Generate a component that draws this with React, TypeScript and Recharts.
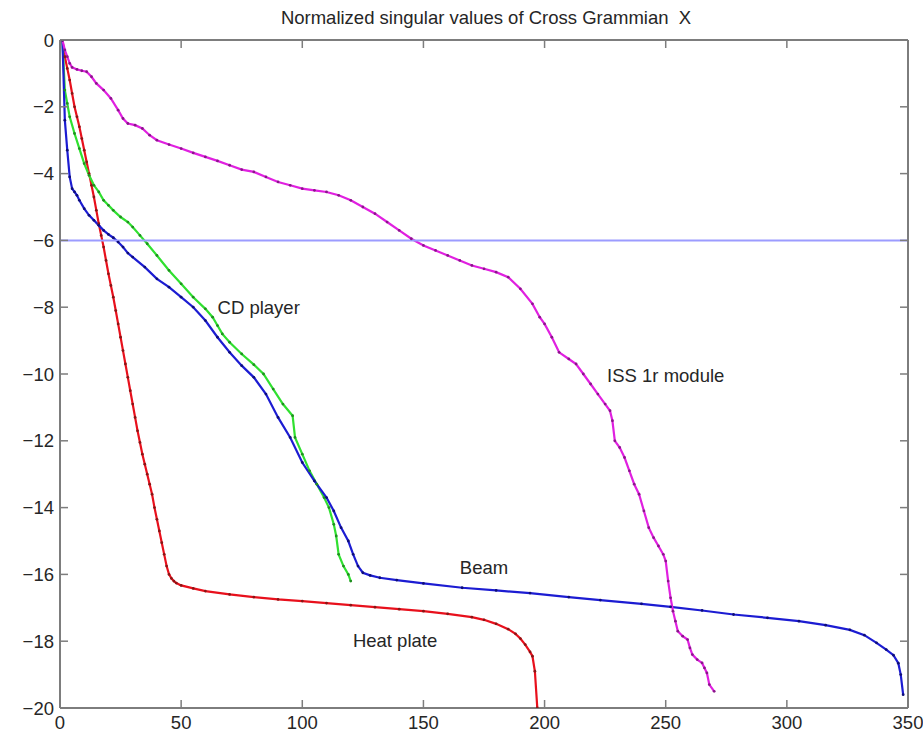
import { LineChart, Line, XAxis, YAxis, ReferenceLine, ReferenceDot } from "recharts";

const xTicks = [0, 50, 100, 150, 200, 250, 300, 350];
const yTicks = [-20, -18, -16, -14, -12, -10, -8, -6, -4, -2, 0];
const threshold = -6;

// [index, log10 of normalized singular value]
const heatPlate: [number, number][] = [
  [1, 0], [2, -0.5], [3, -0.85], [4, -1.2], [5, -1.6], [6, -2.0], [7, -2.3], [8, -2.6],
  [9, -2.95], [10, -3.3], [11, -3.65], [12, -4.0], [13, -4.35], [14, -4.7], [15, -5.1],
  [16, -5.5], [17, -5.85], [18, -6.2], [19, -6.6], [20, -7.0], [21, -7.35], [22, -7.7],
  [23, -8.1], [24, -8.5], [25, -8.9], [26, -9.3], [27, -9.7], [28, -10.1], [29, -10.5],
  [30, -10.9], [31, -11.3], [32, -11.7], [33, -12.05], [34, -12.4], [35, -12.7], [36, -13.0],
  [37, -13.3], [38, -13.6], [39, -14.0], [40, -14.35], [41, -14.7], [42, -15.05], [43, -15.4],
  [44, -15.75], [45, -16.0], [46, -16.12], [47, -16.2], [48, -16.26], [50, -16.33],
  [55, -16.42], [60, -16.5], [70, -16.6], [80, -16.68], [90, -16.75], [100, -16.8],
  [110, -16.86], [120, -16.92], [130, -16.98], [140, -17.04], [150, -17.1], [160, -17.18],
  [170, -17.28], [175, -17.36], [180, -17.48], [185, -17.64], [188, -17.78], [190, -17.92],
  [192, -18.1], [194, -18.32], [195, -18.45], [196, -18.9], [197, -20],
];

const cdPlayer: [number, number][] = [
  [1, 0], [2, -1.5], [3, -1.9], [4, -2.3], [6, -2.8], [8, -3.25], [10, -3.7], [12, -4.05],
  [14, -4.35], [16, -4.55], [18, -4.8], [20, -4.95], [22, -5.1], [25, -5.3], [28, -5.45],
  [30, -5.6], [33, -5.85], [36, -6.1], [40, -6.45], [45, -6.9], [50, -7.3], [55, -7.7],
  [60, -8.05], [63, -8.3], [65, -8.55], [67, -8.8], [70, -9.05], [75, -9.4], [80, -9.72],
  [84, -10.0], [88, -10.45], [92, -10.9], [96, -11.25], [97, -11.9], [100, -12.4],
  [103, -12.9], [106, -13.3], [109, -13.7], [111, -14.0], [113, -14.5], [114, -14.85],
  [115, -15.4], [117, -15.75], [119, -16.0], [120, -16.2],
];

const beam: [number, number][] = [
  [1, 0], [2, -2.4], [3, -3.3], [4, -4.1], [5, -4.45], [6, -4.55], [7, -4.65], [8, -4.8],
  [10, -5.05], [12, -5.25], [14, -5.4], [16, -5.55], [18, -5.7], [20, -5.82], [22, -5.92],
  [24, -6.05], [26, -6.2], [28, -6.38], [30, -6.5], [35, -6.8], [40, -7.15], [45, -7.4],
  [50, -7.7], [55, -8.0], [60, -8.4], [65, -8.9], [70, -9.35], [75, -9.75], [80, -10.1],
  [85, -10.6], [90, -11.3], [95, -11.9], [100, -12.65], [105, -13.2], [110, -13.7],
  [113, -14.1], [116, -14.6], [119, -15.0], [121, -15.4], [123, -15.75], [125, -15.95],
  [128, -16.03], [132, -16.1], [139, -16.17], [150, -16.27], [166, -16.4], [180, -16.48],
  [194, -16.56], [210, -16.68], [223, -16.77], [240, -16.88], [252, -16.97], [265, -17.08],
  [278, -17.2], [292, -17.3], [305, -17.4], [316, -17.52], [326, -17.66], [332, -17.82],
  [337, -18.05], [341, -18.25], [344, -18.42], [346, -18.66], [347, -19.0], [348, -19.6],
];

const issModule: [number, number][] = [
  [1, 0], [2, -0.3], [3, -0.5], [4, -0.7], [5, -0.82], [7, -0.88], [9, -0.92], [11, -0.95],
  [13, -1.1], [15, -1.3], [18, -1.5], [21, -1.75], [24, -2.1], [26, -2.35], [28, -2.5],
  [31, -2.55], [34, -2.65], [37, -2.85], [40, -3.0], [45, -3.13], [50, -3.25], [55, -3.38],
  [60, -3.5], [65, -3.62], [70, -3.75], [75, -3.88], [80, -3.95], [85, -4.1], [90, -4.25],
  [95, -4.35], [100, -4.45], [105, -4.5], [110, -4.55], [115, -4.65], [120, -4.8],
  [125, -5.0], [130, -5.2], [135, -5.45], [140, -5.7], [145, -5.95], [150, -6.15],
  [155, -6.3], [160, -6.45], [165, -6.6], [170, -6.75], [175, -6.85], [180, -6.95],
  [185, -7.1], [190, -7.45], [195, -7.9], [198, -8.3], [200, -8.5], [203, -8.9],
  [206, -9.35], [210, -9.55], [213, -9.7], [216, -10.0], [219, -10.3], [222, -10.6],
  [225, -10.9], [227, -11.1], [228, -11.4], [229, -12.0], [231, -12.2], [233, -12.5],
  [235, -12.9], [237, -13.3], [239, -13.6], [241, -14.1], [243, -14.6], [245, -14.9],
  [247, -15.15], [249, -15.4], [250, -15.6], [251, -16.2], [252, -16.7], [253, -17.1],
  [254, -17.4], [255, -17.7], [257, -17.85], [259, -17.95], [260, -18.2], [261, -18.4],
  [263, -18.55], [265, -18.65], [266, -18.8], [267, -18.95], [268, -19.3], [270, -19.5],
];

// curve labels: [text, x, y]
const curveLabels: [string, number, number][] = [
  ["CD player", 82, -8.0],
  ["ISS 1r module", 250, -10.03],
  ["Beam", 175, -15.78],
  ["Heat plate", 138.3, -17.99],
];

const toPoints = (pts: [number, number][]) => pts.map(([x, y]) => ({ x, y }));

const CHART_W = 923;
const CHART_H = 732;
const MARGIN = { top: 39, right: 14, bottom: 0, left: 0 };
const PLOT_TOP = MARGIN.top + 1; // + height of the top axis
const PLOT_RIGHT = CHART_W - MARGIN.right - 1; // - width of the right axis

const FONT = '"Liberation Sans", Arial, Helvetica, sans-serif';
const FONT_SIZE = 18.5;
const AXIS = "#7d7d7d";
const TEXT = "#262626";
const TICK_LEN = 8;

const fmt = (v: number) => (v < 0 ? "\u2212" + Math.abs(v) : String(v));

// bottom tick: label + inward tick on bottom and top edges
const BottomTick = ({ x, y, payload }: any) => (
  <g>
    <line x1={x} y1={y} x2={x} y2={y - TICK_LEN} stroke={AXIS} strokeWidth={1.5} />
    <line x1={x} y1={PLOT_TOP} x2={x} y2={PLOT_TOP + TICK_LEN} stroke={AXIS} strokeWidth={1.5} />
    <text x={x} y={y + 8} dy="0.71em" textAnchor="middle" fill={TEXT} fontSize={FONT_SIZE} fontFamily={FONT}>
      {fmt(payload.value)}
    </text>
  </g>
);

// left tick: label + inward tick on left and right edges
const LeftTick = ({ x, y, payload }: any) => (
  <g>
    <line x1={x} y1={y} x2={x + TICK_LEN} y2={y} stroke={AXIS} strokeWidth={1.5} />
    <line x1={PLOT_RIGHT} y1={y} x2={PLOT_RIGHT - TICK_LEN} y2={y} stroke={AXIS} strokeWidth={1.5} />
    <text x={x - 6} y={y} dy="0.36em" textAnchor="end" fill={TEXT} fontSize={FONT_SIZE} fontFamily={FONT}>
      {fmt(payload.value)}
    </text>
  </g>
);

const series = [
  { name: "Heat plate", data: heatPlate, stroke: "#e8101c", dotFill: "#8a1515" },
  { name: "CD player", data: cdPlayer, stroke: "#30e030", dotFill: "#1f8f1f" },
  { name: "Beam", data: beam, stroke: "#1c1cd2", dotFill: "#0e0e78" },
  { name: "ISS 1r module", data: issModule, stroke: "#e020e0", dotFill: "#8a168a" },
];

export default function App() {
  return (
    <div style={{ position: "absolute", left: 0, top: 0, width: CHART_W, height: CHART_H, background: "#fff" }}>
      <svg width={CHART_W} height={40} style={{ position: "absolute", left: 0, top: 0 }}>
        <text
          x={486}
          y={24}
          textAnchor="middle"
          fill={TEXT}
          fontSize={FONT_SIZE}
          fontFamily={FONT}
          style={{ whiteSpace: "pre" }}
        >
          {"Normalized singular values of Cross Grammian  X"}
        </text>
      </svg>
      <LineChart width={CHART_W} height={CHART_H} margin={MARGIN}>
        <XAxis
          xAxisId={0}
          type="number"
          dataKey="x"
          domain={[0, 350]}
          ticks={xTicks}
          interval={0}
          allowDataOverflow
          height={24}
          tickSize={0}
          tickMargin={0}
          tickLine={false}
          axisLine={{ stroke: AXIS, strokeWidth: 2 }}
          tick={<BottomTick />}
        />
        <XAxis
          xAxisId="top"
          orientation="top"
          type="number"
          dataKey="x"
          domain={[0, 350]}
          ticks={xTicks}
          allowDataOverflow
          height={1}
          tickLine={false}
          tick={false}
          axisLine={{ stroke: AXIS, strokeWidth: 2 }}
        />
        <YAxis
          yAxisId={0}
          type="number"
          domain={[-20, 0]}
          ticks={yTicks}
          interval={0}
          allowDataOverflow
          width={60}
          tickSize={0}
          tickMargin={0}
          tickLine={false}
          axisLine={{ stroke: AXIS, strokeWidth: 2 }}
          tick={<LeftTick />}
        />
        <YAxis
          yAxisId="right"
          orientation="right"
          type="number"
          domain={[-20, 0]}
          ticks={yTicks}
          allowDataOverflow
          width={1}
          tickLine={false}
          tick={false}
          axisLine={{ stroke: AXIS, strokeWidth: 2 }}
        />

        {series.map((s) => (
          <Line
            key={s.name}
            name={s.name}
            data={toPoints(s.data)}
            dataKey="y"
            type="linear"
            stroke={s.stroke}
            strokeWidth={2.2}
            dot={{ r: 1.4, fill: s.dotFill, stroke: "none" }}
            activeDot={false}
            isAnimationActive={false}
          />
        ))}

        <ReferenceLine y={threshold} stroke="#9c9cff" strokeWidth={2} />

        {curveLabels.map(([text, x, y]) => (
          <ReferenceDot
            key={text}
            x={x}
            y={y}
            r={0}
            fill="none"
            stroke="none"
            label={{ value: text, position: "center", fill: TEXT, fontSize: FONT_SIZE, fontFamily: FONT }}
          />
        ))}
      </LineChart>
    </div>
  );
}
